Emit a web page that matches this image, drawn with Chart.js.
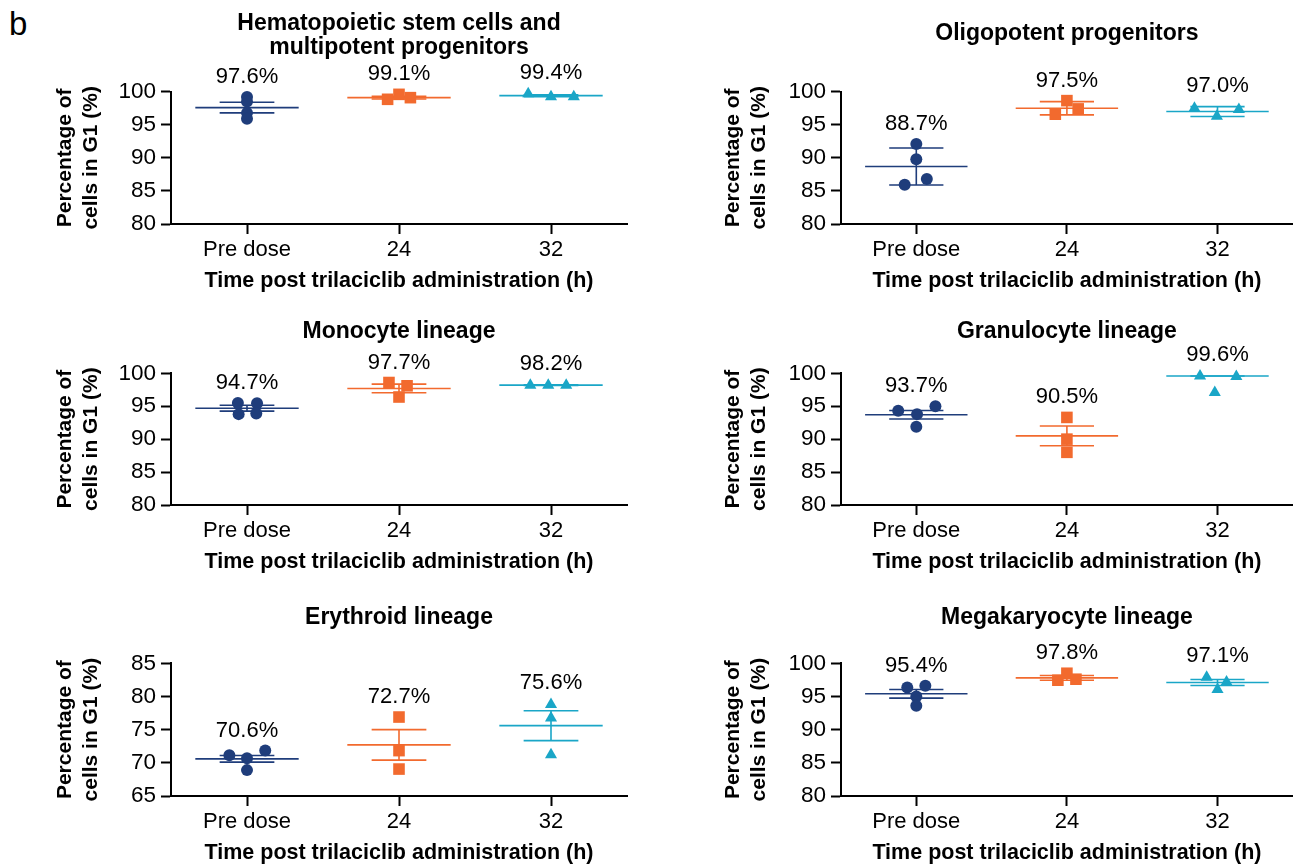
<!DOCTYPE html>
<html>
<head>
<meta charset="utf-8">
<script src="https://cdn.jsdelivr.net/npm/chart.js@4.4.1/dist/chart.umd.min.js"></script>
<style>
  html, body { margin: 0; padding: 0; background: #ffffff; }
  body { width: 1301px; height: 868px; overflow: hidden; position: relative;
         font-family: "Liberation Sans", Arial, sans-serif; }
  #panelLetter { position: absolute; left: 9px; top: 7px; font-size: 33px; line-height: 1; color: #000; }
  .pane { position: absolute; }
</style>
</head>
<body>
<div id="panelLetter">b</div>
<script>
// ---------------- data ----------------
const categories = ["Pre dose", "24", "32"];
const xAxisTitle = "Time post trilaciclib administration (h)";
const yAxisTitle = ["Percentage of", "cells in G1 (%)"];
const ticksStandard = [80, 85, 90, 95, 100];
const ticksErythroid = [65, 70, 75, 80, 85];

const hscTitle = ["Hematopoietic stem cells and", "multipotent progenitors"];
const hscValues = [[99.2, 98.5, 96.8, 95.9], [98.85, 99.6, 99.1], [99.7, 99.25, 99.25]];
const hscJitter = [[0, 0, 0, 0], [-0.075, 0, 0.075], [-0.15, 0, 0.15]];
const hscMeans = [97.6, 99.1, 99.4];
const hscErrors = [0.8, 0.2, 0.15];

const oligoTitle = ["Oligopotent progenitors"];
const oligoValues = [[92.1, 89.8, 85.95, 86.8], [96.6, 98.65, 97.4], [97.5, 96.3, 97.3]];
const oligoJitter = [[0, 0, -0.077, 0.07], [-0.077, 0, 0.075], [-0.153, -0.004, 0.142]];
const oligoMeans = [88.7, 97.5, 97.0];
const oligoErrors = [2.8, 1.0, 0.75];

const monoTitle = ["Monocyte lineage"];
const monoValues = [[95.5, 95.45, 93.8, 93.9], [98.6, 98.1, 96.4], [98.2, 98.2, 98.2]];
const monoJitter = [[-0.06, 0.066, -0.055, 0.061], [-0.066, 0.053, 0], [-0.136, -0.018, 0.1]];
const monoMeans = [94.7, 97.7, 98.2];
const monoErrors = [0.45, 0.65, 0.05];

const granTitle = ["Granulocyte lineage"];
const granValues = [[94.3, 93.8, 95.0, 91.9], [93.3, 90.0, 88.0], [99.6, 99.5, 97.1]];
const granJitter = [[-0.12, 0.005, 0.127, 0], [0, 0, 0], [-0.116, 0.125, -0.018]];
const granMeans = [93.7, 90.5, 99.6];
const granErrors = [0.65, 1.5, 0];

const eryTitle = ["Erythroid lineage"];
const eryValues = [[71.13, 70.68, 71.84, 68.9], [76.9, 71.84, 69.06], [78.8, 76.75, 71.2]];
const eryJitter = [[-0.116, 0, 0.12, 0], [0, 0, 0], [0, 0, 0]];
const eryMeans = [70.6, 72.7, 75.6];
const eryErrors = [0.5, 2.3, 2.25];

const megaTitle = ["Megakaryocyte lineage"];
const megaValues = [[96.35, 96.6, 95.0, 93.6], [97.45, 98.5, 97.6], [97.9, 97.2, 96.05]];
const megaJitter = [[-0.06, 0.06, 0, 0], [-0.06, 0, 0.06], [-0.072, 0.06, 0]];
const megaMeans = [95.4, 97.8, 97.1];
const megaErrors = [0.65, 0.35, 0.45];

// ---------------- styling / layout ----------------
const FONT = '"Liberation Sans", Arial, sans-serif';
const groupColors = ["#1f3d7b", "#f26a2e", "#1aa6c7"];
const groupStyles = ["circle", "rect", "triangle"];
const groupRadii = [6, 8.2, 7];
const groupTopExtent = [6, 6, 7];

const panels = [
  { title: hscTitle, vals: hscValues, jit: hscJitter, means: hscMeans, errs: hscErrors, ticks: ticksStandard, col: 0, row: 0, titleBase: 30 },
  { title: oligoTitle, vals: oligoValues, jit: oligoJitter, means: oligoMeans, errs: oligoErrors, ticks: ticksStandard, col: 1, row: 0, titleBase: 40 },
  { title: monoTitle, vals: monoValues, jit: monoJitter, means: monoMeans, errs: monoErrors, ticks: ticksStandard, col: 0, row: 1, titleBase: 47.5 },
  { title: granTitle, vals: granValues, jit: granJitter, means: granMeans, errs: granErrors, ticks: ticksStandard, col: 1, row: 1, titleBase: 47.5 },
  { title: eryTitle, vals: eryValues, jit: eryJitter, means: eryMeans, errs: eryErrors, ticks: ticksErythroid, col: 0, row: 2, titleBase: 46 },
  { title: megaTitle, vals: megaValues, jit: megaJitter, means: megaMeans, errs: megaErrors, ticks: ticksStandard, col: 1, row: 2, titleBase: 46 }
];

const cols = [
  { left: 0, w: 650, yW: 171, padR: 23, yTitlePad: 52 },
  { left: 650, w: 651, yW: 191, padR: 4, yTitlePad: 70 }
];
const rows = [
  { top: 0, h: 300, chartTop: 91.7 },
  { top: 290, h: 291, chartTop: 83.3 },
  { top: 578, h: 294, chartTop: 85.3 }
];
const X_SCALE_H = 76;

const textPlugin = {
  id: 'panelText',
  afterDatasetsDraw(chart, args, opts) {
    const p = opts.panel;
    const { ctx, chartArea } = chart;
    const xs = chart.scales.x, ys = chart.scales.y;
    ctx.save();
    ctx.fillStyle = '#000';
    ctx.textAlign = 'center';
    ctx.textBaseline = 'alphabetic';
    ctx.font = '22px ' + FONT;
    p.means.forEach((m, g) => {
      const topVal = Math.max(...p.vals[g], m + p.errs[g]);
      const py = ys.getPixelForValue(topVal) - groupTopExtent[g] - 8;
      ctx.fillText(m.toFixed(1) + '%', xs.getPixelForValue(g), py);
    });
    ctx.font = 'bold 23px ' + FONT;
    const cx = (chartArea.left + chartArea.right) / 2;
    p.title.forEach((t, i) => ctx.fillText(t, cx, p.titleBase + i * 23.5));
    ctx.restore();
  }
};

function buildDatasets(p) {
  const ds = [];
  for (let g = 0; g < categories.length; g++) {
    const m = p.means[g], e = p.errs[g], c = groupColors[g];
    ds.push({
      type: 'scatter',
      data: p.vals[g].map((v, k) => ({ x: g + p.jit[g][k], y: v })),
      pointStyle: groupStyles[g], pointRadius: groupRadii[g], pointHoverRadius: groupRadii[g],
      backgroundColor: c, borderColor: c, borderWidth: 0, clip: false, order: 0
    });
    ds.push({
      type: 'line',
      data: [{ x: g - 0.34, y: m }, { x: g + 0.34, y: m }],
      borderColor: c, borderWidth: 1.6, pointRadius: 0, clip: false, order: 1, fill: false, tension: 0
    });
    ds.push({
      type: 'line',
      data: [
        { x: g - 0.18, y: m + e }, { x: g + 0.18, y: m + e }, { x: g, y: null },
        { x: g, y: m + e }, { x: g, y: m - e }, { x: g, y: null },
        { x: g - 0.18, y: m - e }, { x: g + 0.18, y: m - e }
      ],
      borderColor: c, borderWidth: 1.6, pointRadius: 0, clip: false, order: 1, fill: false, tension: 0, spanGaps: false
    });
  }
  return ds;
}

panels.forEach((p) => {
  const c = cols[p.col], r = rows[p.row];
  const div = document.createElement('div');
  div.className = 'pane';
  div.style.left = c.left + 'px';
  div.style.top = r.top + 'px';
  div.style.width = c.w + 'px';
  div.style.height = r.h + 'px';
  const canvas = document.createElement('canvas');
  canvas.width = c.w; canvas.height = r.h;
  canvas.style.width = c.w + 'px'; canvas.style.height = r.h + 'px';
  div.appendChild(canvas);
  document.body.appendChild(div);

  const axisGrid = { display: true, drawOnChartArea: false, drawTicks: true, tickLength: 10, tickWidth: 2, tickColor: '#000', color: '#000' };
  new Chart(canvas.getContext('2d'), {
    data: { datasets: buildDatasets(p) },
    plugins: [textPlugin],
    options: {
      responsive: false, animation: false, devicePixelRatio: 1,
      layout: { padding: { left: 0, right: c.padR, top: r.chartTop, bottom: 0 } },
      plugins: { legend: { display: false }, tooltip: { enabled: false }, title: { display: false }, panelText: { panel: p } },
      scales: {
        x: {
          type: 'linear', min: -0.5, max: 2.5,
          afterBuildTicks: (s) => { s.ticks = categories.map((_, i) => ({ value: i })); },
          afterFit: (s) => { s.height = X_SCALE_H; },
          ticks: { autoSkip: false, maxRotation: 0, minRotation: 0, padding: 3, color: '#000',
                   font: { family: FONT, size: 22 }, callback: (v) => categories[v] },
          grid: axisGrid,
          border: { display: true, color: '#000', width: 2 },
          title: { display: true, text: xAxisTitle, color: '#000', font: { family: FONT, size: 21.5, weight: 'bold', lineHeight: 1.2 }, padding: { top: 0, bottom: 6 } }
        },
        y: {
          type: 'linear', min: p.ticks[0], max: p.ticks[p.ticks.length - 1],
          afterBuildTicks: (s) => { s.ticks = p.ticks.map(v => ({ value: v })); },
          afterFit: (s) => { s.width = c.yW; },
          ticks: { padding: 5, color: '#000', font: { family: FONT, size: 22.5 } },
          grid: axisGrid,
          border: { display: true, color: '#000', width: 2 },
          title: { display: true, text: yAxisTitle, color: '#000', font: { family: FONT, size: 21, weight: 'bold', lineHeight: 1.25 }, padding: { top: c.yTitlePad, bottom: 0 } }
        }
      }
    }
  });
});
</script>
</body>
</html>
